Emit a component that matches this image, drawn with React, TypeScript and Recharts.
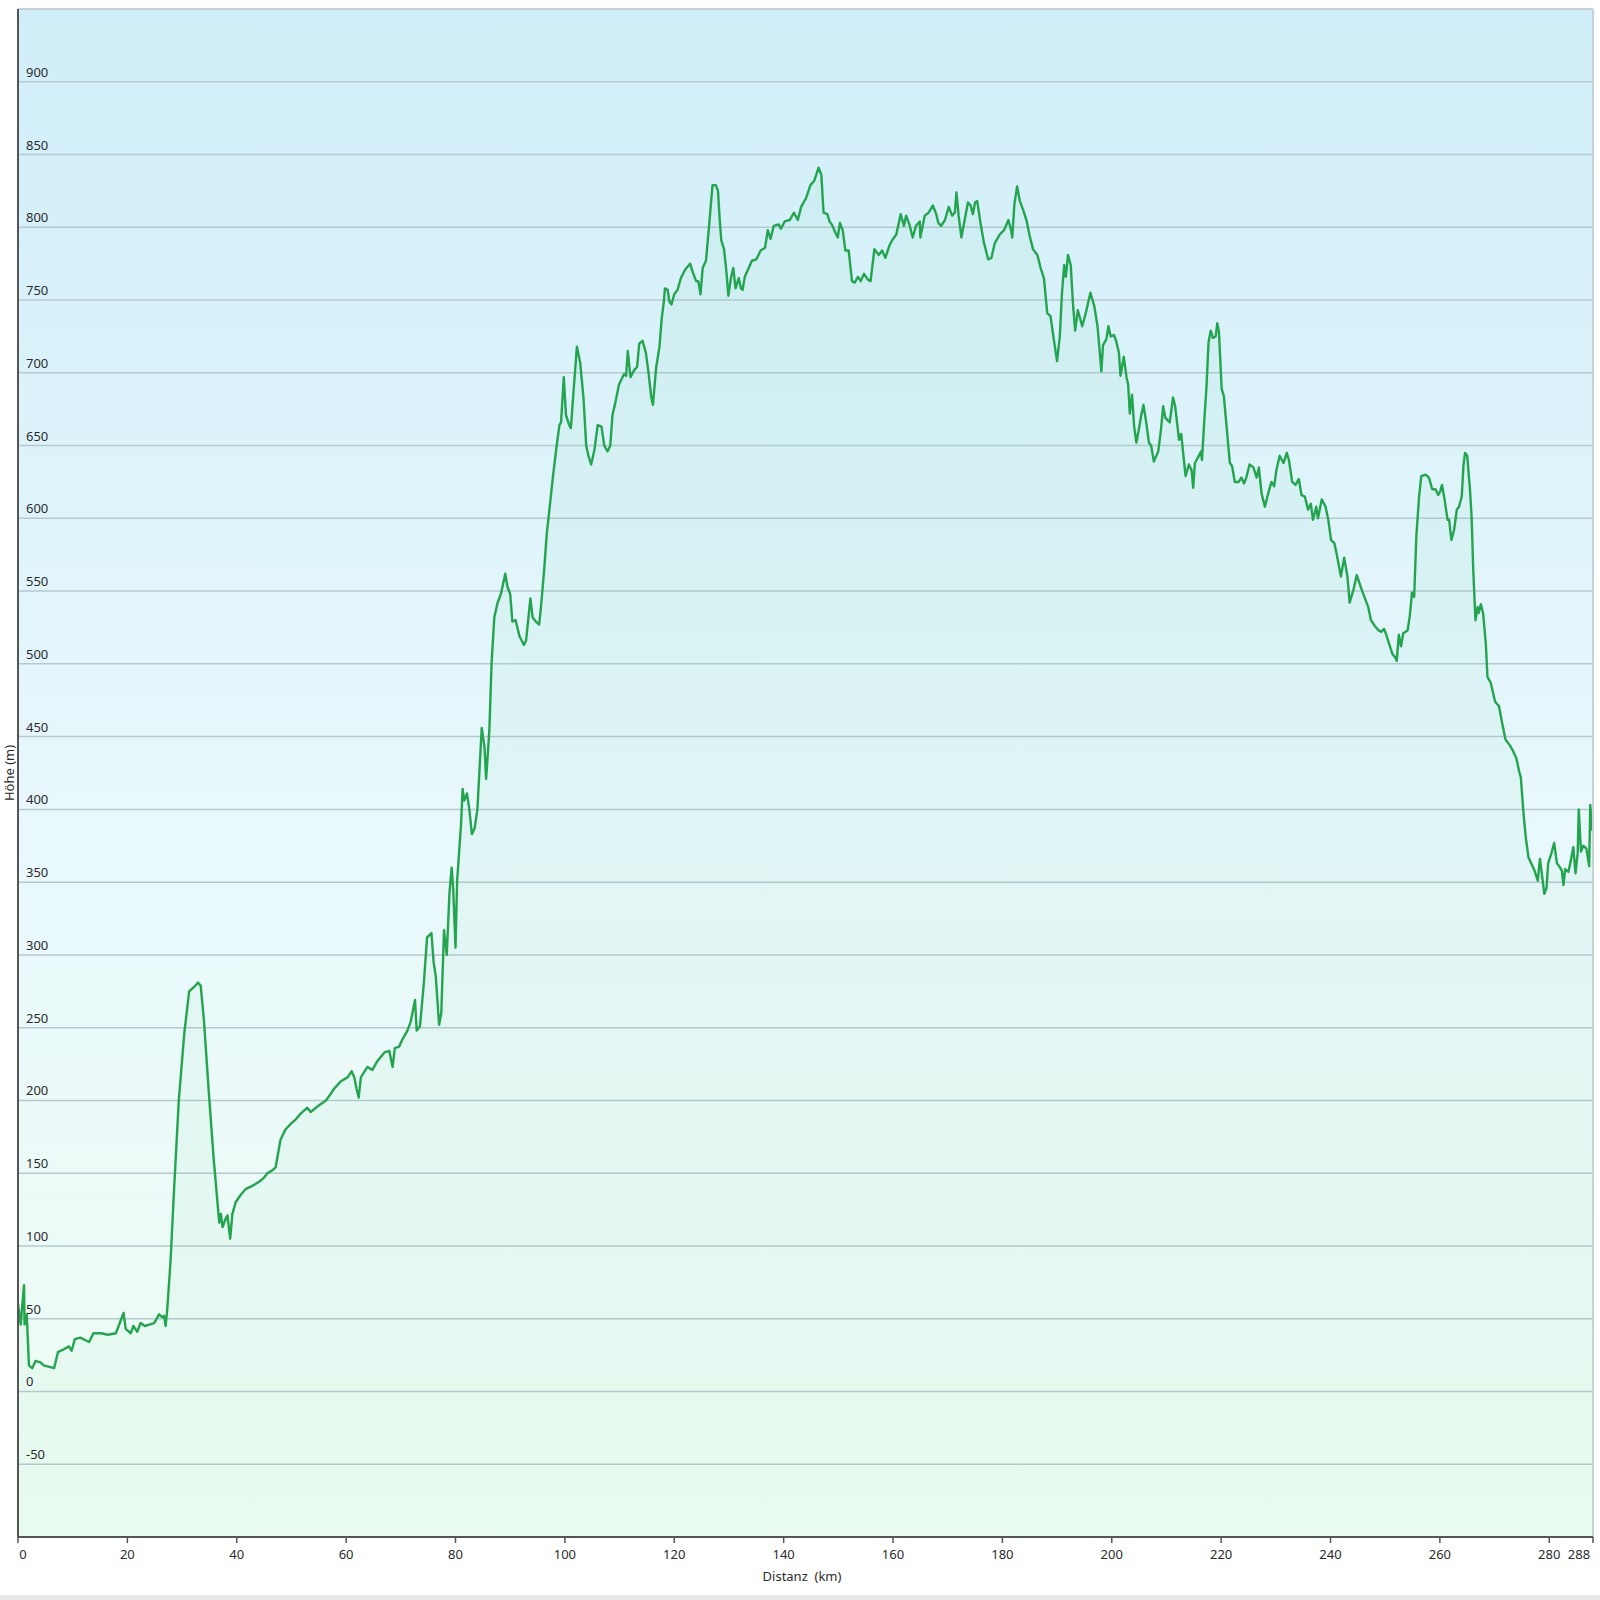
import React from 'react';
import { AreaChart, Area, XAxis, YAxis, CartesianGrid, ReferenceLine, Label } from 'recharts';

// [distance km, elevation m]
const segmentCoast: [number, number][] = [
  [0, 60], [0.5, 46], [0.8, 60], [1.1, 73], [1.2, 46], [1.6, 53], [2.0, 18], [2.6, 16], [3.2, 21], [4.1, 20],
  [4.7, 18], [6.6, 16], [7.3, 27], [8.4, 29], [9.3, 31], [9.8, 28], [10.4, 36], [11.4, 37], [13.0, 34], [13.8, 40],
  [15.2, 40], [16.4, 39], [17.9, 40], [18.5, 46], [19.3, 54], [19.7, 43], [20.6, 40], [21.1, 45], [21.8, 41], [22.4, 47],
  [23.2, 45], [24.0, 46], [24.9, 47], [25.8, 53], [26.4, 51], [26.7, 52], [27.0, 45], [27.3, 57], [27.9, 90], [28.5, 136],
  [29.4, 200], [30.4, 246], [31.3, 275], [32.2, 278], [32.9, 281], [33.4, 279], [34.0, 255], [34.9, 205], [35.8, 159], [36.8, 116],
  [37.1, 122], [37.4, 113], [38.0, 119], [38.3, 121], [38.8, 105], [39.2, 122], [39.8, 130], [40.7, 135], [41.6, 139], [43.2, 142],
  [44.4, 145], [45.0, 147], [45.6, 150], [46.5, 152], [47.1, 154],
];

const segmentClimb: [number, number][] = [
  [48.0, 173], [48.9, 180], [49.9, 184], [50.8, 187], [51.7, 191], [52.9, 195], [53.5, 192], [54.8, 196], [56.3, 200], [56.9, 203],
  [57.8, 208], [59.0, 213], [60.3, 216], [61.0, 220], [61.5, 216], [61.9, 208], [62.3, 202], [62.7, 216], [63.9, 223], [64.8, 221],
  [65.7, 227], [67.0, 233], [67.9, 234], [68.5, 223], [68.9, 236], [69.7, 237], [70.3, 242], [71.2, 248], [71.8, 254], [72.6, 269],
  [72.9, 248], [73.5, 251], [74.2, 280], [74.8, 312], [75.6, 315], [76.0, 295], [76.4, 285], [77.0, 252], [77.4, 260], [77.9, 317],
  [78.4, 300], [78.9, 343], [79.3, 360], [79.6, 344], [80.0, 305], [80.3, 351], [81.0, 389], [81.3, 414], [81.6, 406], [82.1, 411],
  [82.5, 401], [83.0, 383], [83.5, 387], [84.0, 400], [84.8, 456], [85.3, 443], [85.6, 421], [86.2, 455], [86.6, 501], [87.1, 532],
  [87.7, 542], [88.3, 548], [89.1, 562], [89.5, 553], [90.0, 548], [90.4, 529], [91.0, 530], [91.7, 519], [92.5, 513], [92.9, 516],
  [93.7, 545], [94.1, 532], [94.7, 529], [95.3, 527],
];

const segmentUpland: [number, number][] = [
  [95.6, 538], [96.2, 564], [96.7, 590], [97.2, 607], [97.8, 628], [98.4, 647], [99.0, 664], [99.3, 666], [99.8, 697], [100.2, 671],
  [100.8, 664], [101.1, 662], [101.6, 688], [102.2, 718], [102.8, 707], [103.4, 683], [103.9, 650], [104.3, 643], [104.8, 637], [105.4, 647],
  [106.0, 664], [106.7, 663], [107.2, 650], [107.8, 646], [108.3, 650], [108.7, 671], [109.2, 679], [109.9, 692], [110.8, 699], [111.2, 698],
  [111.5, 715], [112.0, 697], [112.7, 702], [113.2, 704], [113.6, 720], [114.2, 722], [114.8, 714], [115.3, 700], [115.8, 683], [116.1, 678],
  [116.7, 704], [117.3, 718], [117.7, 737], [118.1, 749], [118.3, 758], [118.8, 757], [119.1, 749], [119.5, 747], [120.0, 754], [120.6, 757],
  [121.2, 765], [122.0, 771], [122.9, 775], [123.4, 769], [124.0, 763], [124.4, 763], [124.8, 754], [125.2, 772], [125.8, 777], [126.3, 798],
  [126.7, 816], [127.0, 829], [127.6, 829], [128.0, 825], [128.3, 806], [128.6, 791], [129.1, 785], [129.5, 771], [129.9, 753], [130.4, 766],
  [130.8, 772], [131.2, 758], [131.8, 765], [132.2, 758], [132.5, 757], [132.9, 766], [134.2, 777], [135.0, 778], [135.8, 784], [136.6, 786],
  [137.1, 798], [137.6, 792], [138.2, 801], [139.1, 802], [139.5, 799], [140.2, 804], [141.1, 805], [141.9, 810], [142.6, 805], [143.2, 814],
  [144.1, 820], [144.9, 829], [145.6, 832], [146.4, 841],
];

const segmentPlateau: [number, number][] = [
  [146.9, 836], [147.3, 810], [148.0, 809], [148.4, 804], [148.8, 802], [149.4, 797], [149.9, 793], [150.3, 803], [150.8, 798], [151.3, 784],
  [151.9, 784], [152.5, 763], [153.0, 762], [153.6, 766], [154.1, 763], [154.7, 768], [155.4, 764], [155.9, 763], [156.6, 785], [157.4, 781],
  [158.0, 784], [158.6, 779], [159.4, 788], [160.0, 792], [160.6, 795], [161.4, 809], [162.0, 801], [162.4, 808], [163.0, 802], [163.6, 793],
  [164.2, 801], [164.9, 804], [165.0, 793], [165.8, 808], [166.5, 810], [167.3, 815], [167.9, 809], [168.3, 803], [168.8, 801], [169.5, 805],
  [170.2, 814], [170.8, 808], [171.3, 810], [171.6, 824], [172.0, 808], [172.5, 793], [173.0, 803], [173.7, 817], [174.2, 815], [174.6, 809],
  [175.0, 817], [175.4, 818], [176.0, 803], [176.6, 790], [177.4, 778], [178.0, 779], [178.6, 789], [179.5, 795], [180.3, 798], [181.1, 805],
  [181.6, 798], [181.8, 793], [182.2, 816], [182.7, 828], [183.2, 818], [183.8, 812], [184.4, 805], [185.0, 794], [185.6, 785], [186.4, 781],
  [187.0, 772], [187.6, 765], [188.2, 741], [188.8, 739], [189.4, 723], [190.0, 708], [190.5, 725], [190.9, 755], [191.3, 774], [191.6, 766],
  [192.0, 781], [192.5, 774], [192.9, 748], [193.3, 729], [193.8, 743], [194.6, 732], [195.3, 742], [196.1, 755], [196.8, 746], [197.4, 732],
];

const segmentDescent: [number, number][] = [
  [198.1, 701], [198.4, 719], [199.0, 723], [199.4, 732], [199.8, 725], [200.4, 726], [200.8, 722], [201.3, 714], [201.6, 698], [202.2, 711],
  [202.7, 697], [203.0, 692], [203.3, 672], [203.7, 685], [204.1, 663], [204.5, 652], [204.9, 660], [205.4, 671], [205.8, 678], [206.3, 666],
  [206.8, 652], [207.2, 650], [207.7, 639], [208.5, 646], [209.0, 661], [209.4, 677], [209.8, 669], [210.6, 666], [211.2, 683], [211.6, 677],
  [212.3, 654], [212.7, 658], [213.0, 647], [213.5, 629], [214.1, 637], [214.6, 633], [214.9, 621], [215.2, 638], [215.8, 642], [216.3, 646],
  [216.5, 640], [216.9, 666], [217.3, 689], [217.7, 721], [218.1, 729], [218.5, 724], [219.0, 725], [219.3, 734], [219.6, 728], [220.1, 689],
  [220.5, 684], [221.0, 663], [221.6, 638], [222.0, 636], [222.5, 625], [223.2, 625], [223.7, 628], [224.2, 624], [224.6, 628], [225.2, 637],
  [225.9, 635], [226.5, 628], [226.9, 635], [227.4, 617], [228.0, 608], [228.6, 617], [229.2, 625], [229.7, 622], [230.1, 633], [230.7, 643],
  [231.4, 638], [232.0, 645], [232.4, 640], [233.0, 625], [233.6, 623], [234.2, 627], [234.7, 616], [235.3, 615], [235.9, 606], [236.4, 610],
  [236.8, 599], [237.4, 608], [237.7, 600], [238.4, 613], [239.1, 608], [239.6, 599], [240.1, 585], [240.7, 583], [241.1, 576], [241.9, 560],
  [242.5, 573], [243.1, 560], [243.5, 542], [244.2, 551], [244.8, 561], [245.7, 551], [246.3, 545], [246.9, 539], [247.4, 530],
];

const segmentFinish: [number, number][] = [
  [248.1, 526], [248.8, 523], [249.3, 522], [249.8, 524], [250.2, 520], [250.7, 514], [251.3, 507], [251.9, 504], [252.1, 502], [252.5, 520],
  [252.9, 512], [253.3, 521], [254.1, 523], [254.5, 533], [254.9, 549], [255.3, 546], [255.7, 588], [256.2, 615], [256.6, 629], [257.4, 630],
  [258.0, 628], [258.6, 620], [259.2, 620], [259.7, 616], [260.1, 619], [260.4, 623], [260.9, 612], [261.4, 599], [261.7, 599], [262.1, 585],
  [262.6, 592], [263.1, 606], [263.5, 608], [264.0, 615], [264.3, 636], [264.6, 645], [265.0, 643], [265.5, 620], [265.8, 601], [266.1, 565],
  [266.5, 530], [266.9, 539], [267.1, 535], [267.5, 541], [267.9, 535], [268.4, 514], [268.7, 491], [269.3, 487], [270.1, 474], [270.8, 471],
  [271.4, 459], [272.0, 448], [272.8, 444], [273.4, 440], [274.0, 435], [274.5, 426], [274.8, 422], [275.3, 397], [275.7, 381], [276.2, 367],
  [276.7, 363], [277.3, 358], [277.9, 351], [278.3, 366], [278.7, 354], [279.1, 342], [279.5, 346], [279.8, 363], [280.4, 370], [280.9, 377],
  [281.4, 363], [281.8, 361], [282.3, 358], [282.6, 348], [282.9, 359], [283.5, 357], [284.0, 366], [284.4, 374], [284.8, 356], [285.2, 370],
  [285.4, 400], [285.8, 371], [286.2, 375], [286.8, 373], [287.3, 361], [287.5, 403], [287.8, 386], [288.0, 395],
];

const xTicks = [0, 20, 40, 60, 80, 100, 120, 140, 160, 180, 200, 220, 240, 260, 280, 288];
const yTicks = [-50, 0, 50, 100, 150, 200, 250, 300, 350, 400, 450, 500, 550, 600, 650, 700, 750, 800, 850, 900];

const profile = [
  ...segmentCoast,
  ...segmentClimb,
  ...segmentUpland,
  ...segmentPlateau,
  ...segmentDescent,
  ...segmentFinish,
].map(([km, h]) => ({ km, h }));

const FONT = "'Noto Sans', 'DejaVu Sans', sans-serif";
const TEXT = '#2b2b2b';

const YTick = (props: any) => {
  const { y, payload } = props;
  return (
    <text x={26} y={y - 5} fill={TEXT} fontSize={13} fontFamily={FONT} textAnchor="start">
      {payload.value}
    </text>
  );
};

const XTick = (props: any) => {
  const { x, y, payload } = props;
  let dx = 0;
  if (payload.value === 0) dx = 5;
  if (payload.value === 288) dx = -14;
  return (
    <text x={x + dx} y={y + 14} fill={TEXT} fontSize={13} fontFamily={FONT} textAnchor="middle">
      {payload.value}
    </text>
  );
};

export default function App() {
  return (
    <div style={{ position: 'absolute', left: 0, top: 0, width: 1600, height: 1600, background: '#ffffff' }}>
      <div
        style={{
          position: 'absolute',
          left: 18,
          top: 9,
          width: 1575,
          height: 1528,
          background: 'linear-gradient(to bottom, #d0eef9 0%, #e9f8fc 55%, #effdf3 100%)',
        }}
      />
      <div style={{ position: 'absolute', left: 0, top: 0 }}>
        <AreaChart
          width={1600}
          height={1600}
          data={profile}
          margin={{ top: 9, right: 7, bottom: 13, left: 8 }}
        >
          <defs>
            <linearGradient id="areaGrad" x1="0" y1="0" x2="0" y2="1">
              <stop offset="0%" stopColor="#3cc47a" stopOpacity={0.1} />
              <stop offset="100%" stopColor="#3cc47a" stopOpacity={0.07} />
            </linearGradient>
          </defs>
          <CartesianGrid vertical={false} stroke="#b7c9cf" strokeWidth={1.5} fill="none" />
          <XAxis
            type="number"
            dataKey="km"
            domain={[0, 288]}
            ticks={xTicks}
            interval={0}
            allowDataOverflow
            height={50}
            tickSize={6}
            tickMargin={2}
            axisLine={{ stroke: '#555555', strokeWidth: 2 }}
            tickLine={{ stroke: '#555555', strokeWidth: 1.5 }}
            tick={<XTick />}
          >
            <Label
              content={() => (
                <text x={802} y={1581} textAnchor="middle" fill={TEXT} fontSize={13} fontFamily={FONT}>
                  {'Distanz\u00a0 (km)'}
                </text>
              )}
            />
          </XAxis>
          <YAxis
            type="number"
            domain={[-100, 950]}
            ticks={yTicks}
            interval={0}
            allowDataOverflow
            width={10}
            tickSize={0}
            tickMargin={0}
            axisLine={{ stroke: '#555555', strokeWidth: 2 }}
            tickLine={false}
            tick={<YTick />}
          >
            <Label
              content={() => (
                <text
                  x={14}
                  y={773}
                  transform="rotate(-90 14 773)"
                  textAnchor="middle"
                  fill={TEXT}
                  fontSize={13}
                  fontFamily={FONT}
                >
                  Höhe (m)
                </text>
              )}
            />
          </YAxis>
          <ReferenceLine y={950} stroke="#c6d1d5" strokeWidth={2} />
          <ReferenceLine x={288} stroke="#c6d1d5" strokeWidth={2} />
          <Area
            type="linear"
            dataKey="h"
            baseValue="dataMin"
            stroke="#22a54e"
            strokeWidth={2.4}
            strokeLinejoin="round"
            fill="url(#areaGrad)"
            dot={false}
            activeDot={false}
            isAnimationActive={false}
          />
        </AreaChart>
      </div>
      <div style={{ position: 'absolute', left: 0, top: 1595, width: 1600, height: 5, background: '#e9e9e9' }} />
    </div>
  );
}
